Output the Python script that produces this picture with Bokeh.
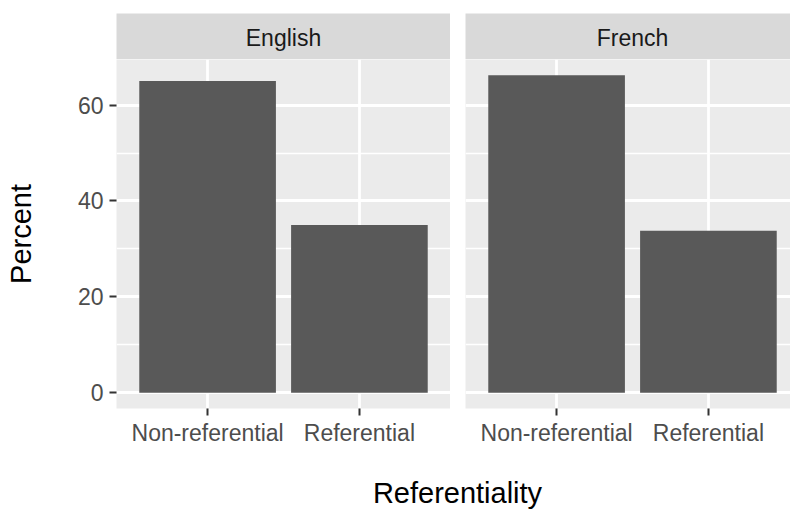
from bokeh.plotting import figure
from bokeh.models import Range1d, FixedTicker, Label
from bokeh.layouts import column, row
from bokeh.core.properties import value
from bokeh.embed import file_html
from bokeh.resources import INLINE

# ---- data ----
languages = ["English", "French"]
referentiality = ["Non-referential", "Referential"]
english_percent = [65.0, 35.0]
french_percent = [66.2, 33.8]
y_ticks = [0, 20, 40, 60]
y_minor_ticks = [10, 30, 50]
x_title = "Referentiality"
y_title = "Percent"

FONT = "Liberation Sans"
PANEL_BG = "#EBEBEB"
STRIP_BG = "#D9D9D9"
BAR = "#595959"

# slot positions of the discrete categories (1, 2, ...)
positions = [i + 1 for i in range(len(referentiality))]
y_max = max(english_percent + french_percent)
y_pad = 0.05 * y_max
y_range = Range1d(-y_pad, y_max + y_pad)

px_per_unit = 334 / 2.2
x_range_en = Range1d(0.4, 2.6)
x_range_fr = Range1d(0.4, 0.4 + 325 / px_per_unit)   # right panel cut at the image edge

LEFT_W, RIGHT_W = 450, 340
LEFT_B, RIGHT_B = 116, 15


def make_panel(values, x_range, width, left_border, with_yaxis):
    p = figure(width=width, height=391, x_range=x_range, y_range=y_range,
               output_backend="svg", toolbar_location=None,
               y_axis_location="left" if with_yaxis else None,
               min_border=0, min_border_left=left_border, min_border_right=0,
               min_border_top=0, min_border_bottom=42,
               background_fill_color=PANEL_BG, border_fill_color="white",
               outline_line_color=None)
    p.vbar(x=positions, top=values, width=0.9, fill_color=BAR, line_color=None)

    p.xgrid.ticker = FixedTicker(ticks=positions)
    p.xgrid.grid_line_color = "white"
    p.xgrid.grid_line_width = 2.8
    p.ygrid.ticker = FixedTicker(ticks=y_ticks, minor_ticks=y_minor_ticks)
    p.ygrid.grid_line_color = "white"
    p.ygrid.grid_line_width = 2.8
    p.ygrid.minor_grid_line_color = "white"
    p.ygrid.minor_grid_line_width = 1.4

    ax = p.xaxis[0]
    ax.ticker = FixedTicker(ticks=positions)
    ax.major_label_overrides = {pos: name for pos, name in zip(positions, referentiality)}
    ax.axis_line_color = None
    ax.major_tick_in = 0
    ax.major_tick_out = 7
    ax.major_tick_line_color = "#333333"
    ax.major_tick_line_width = 2
    ax.minor_tick_line_color = None
    ax.major_label_standoff = 4
    ax.major_label_text_font = FONT
    ax.major_label_text_font_size = "23px"
    ax.major_label_text_color = "#4D4D4D"

    if with_yaxis:
        ay = p.yaxis[0]
        ay.ticker = FixedTicker(ticks=y_ticks)
        ay.axis_line_color = None
        ay.major_tick_in = 0
        ay.major_tick_out = 7
        ay.major_tick_line_color = "#333333"
        ay.major_tick_line_width = 2
        ay.minor_tick_line_color = None
        ay.major_label_standoff = 6
        ay.major_label_text_font = FONT
        ay.major_label_text_font_size = "23px"
        ay.major_label_text_color = "#4D4D4D"
        ay.axis_label = y_title
        ay.axis_label_text_font = FONT
        ay.axis_label_text_font_size = "29px"
        ay.axis_label_text_font_style = "normal"
        ay.axis_label_text_color = "black"
        ay.axis_label_standoff = 38
    return p


def make_strip(label, x_range, width, left_border):
    s = figure(width=width, height=59, x_range=x_range, y_range=Range1d(0, 1),
               output_backend="svg", toolbar_location=None,
               x_axis_location=None, y_axis_location=None,
               min_border=0, min_border_left=left_border, min_border_right=0,
               min_border_top=13, min_border_bottom=0,
               background_fill_color=STRIP_BG, border_fill_color="white",
               outline_line_color=None)
    s.grid.visible = False
    center = sum(positions) / len(positions)
    s.text(x=[center], y=[0.46], text=[label], text_align="center",
           text_baseline="middle", text_font=value(FONT),
           text_font_size="23px", text_color="#1A1A1A")
    return s


s1 = make_strip(languages[0], x_range_en, LEFT_W, LEFT_B)
s2 = make_strip(languages[1], x_range_fr, RIGHT_W, RIGHT_B)
p1 = make_panel(english_percent, x_range_en, LEFT_W, LEFT_B, True)
p2 = make_panel(french_percent, x_range_fr, RIGHT_W, RIGHT_B, False)

total_w = LEFT_W + RIGHT_W
bottom = figure(width=total_w, height=60, x_range=Range1d(0, total_w), y_range=Range1d(0, 60),
                output_backend="svg", toolbar_location=None,
                x_axis_location=None, y_axis_location=None,
                min_border=0, outline_line_color=None)
bottom.grid.visible = False
# centred under the two full-width panels (116 .. 798 in the original)
bottom.add_layout(Label(x=457, y=18, text=x_title, text_align="center",
                        text_baseline="alphabetic", text_font=FONT,
                        text_font_size="29px", text_color="black"))

layout = column(row(s1, s2), row(p1, p2), bottom)

open("out.html", "w").write(file_html(layout, INLINE))
